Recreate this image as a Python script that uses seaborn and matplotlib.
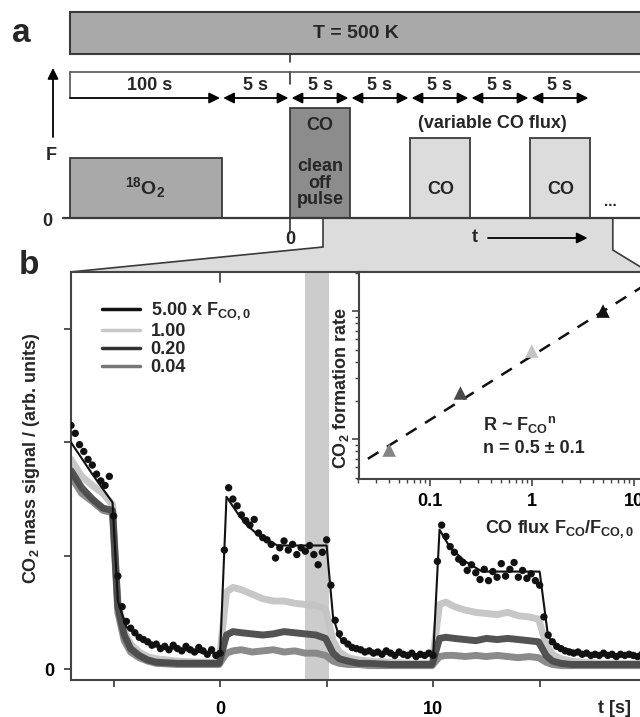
import numpy as np
import matplotlib
matplotlib.use("Agg")
import matplotlib.pyplot as plt
from matplotlib.patches import Rectangle, Polygon
from matplotlib.lines import Line2D
import seaborn as sns

sns.set_style("ticks")
plt.rcParams["font.family"] = ["Liberation Sans", "DejaVu Sans"]
plt.rcParams["font.weight"] = "bold"
plt.rcParams["axes.labelweight"] = "bold"
plt.rcParams["mathtext.default"] = "regular"

# ---- panel a: pulse schedule (schematic units, 5 s = 5 units) ----
sched_labels = ["100 s", "5 s", "5 s", "5 s", "5 s", "5 s", "5 s"]
sched_edges = [-18.33, -5.7, 0, 5, 10, 15, 20, 25]
pulse_start = [-18.33, 0, 10, 20]
pulse_end = [-5.7, 5, 15, 25]
pulse_level = [6.0, 11.0, 8.0, 8.0]
pulse_fill = ["#a9a9a9", "#8c8c8c", "#dcdcdc", "#dcdcdc"]

# ---- panel b: CO2 traces ----
flux_labels = [r"5.00 x F$_{CO,0}$", "1.00", "0.20", "0.04"]
flux_colors = ["#111111", "#c4c4c4", "#4a4a4a", "#858585"]

black_dots = [2.15, 2.08, 1.98, 1.92, 1.85, 1.80, 1.72, 1.66, 1.62, 1.70,
              1.35, 0.82, 0.55, 0.42, 0.36, 0.32, 0.28, 0.26, 0.24, 0.21,
              0.22, 0.18, 0.20, 0.17, 0.21, 0.18, 0.16, 0.20, 0.17, 0.15,
              0.19, 0.16, 0.13, 0.17, 0.12,
              0.14, 1.05, 1.60, 1.50, 1.44, 1.36, 1.31, 1.27, 1.32, 1.20,
              1.16, 1.14, 1.10, 0.98, 1.07, 1.13, 1.05, 1.10, 1.01, 1.07,
              1.04, 1.09, 1.01, 0.92, 1.03, 1.14, 0.74, 0.43, 0.31, 0.25,
              0.22, 0.19, 0.18, 0.17, 0.15, 0.16, 0.14, 0.15, 0.13, 0.16,
              0.14, 0.12, 0.15, 0.13, 0.12, 0.14, 0.11, 0.13, 0.12, 0.14,
              0.12, 0.95, 1.27, 1.17, 1.08, 1.03, 0.97, 0.94, 0.87, 0.92,
              0.85, 0.79, 0.88, 0.78, 0.86, 0.81, 0.93, 0.82, 0.88, 0.94,
              0.81, 0.87, 0.80, 0.84, 0.78, 0.74, 0.46, 0.30, 0.24, 0.20,
              0.18, 0.16, 0.15, 0.14, 0.15, 0.13, 0.14, 0.12, 0.13, 0.12,
              0.14, 0.12, 0.13, 0.11, 0.13, 0.12, 0.13, 0.12, 0.11, 0.13,
              0.12]
t_dots = np.round(-7.0 + 0.2 * np.arange(len(black_dots)), 1)

fit_t = [-7, -6, -5.05, -4.8, -4.4, -3.6, -2.6, -1, 0, 0.3, 0.8, 1.2, 1.8, 2.7, 5.0,
         5.3, 5.6, 6.0, 6.6, 8, 10, 10.3, 10.8, 11.5, 12.3, 15.0, 15.4, 16, 17, 20]
fit_black = [2.0, 1.72, 1.47, 0.6, 0.37, 0.26, 0.19, 0.15, 0.14, 1.52, 1.38, 1.28, 1.18, 1.09, 1.09,
             0.46, 0.28, 0.21, 0.17, 0.13, 0.12, 1.23, 1.07, 0.95, 0.86, 0.86, 0.28, 0.19, 0.14, 0.12]

t_gray = [-7, -6.5, -6, -5.5, -5.05, -4.8, -4.5, -4.2, -3.8, -3.4,
          -3, -2, -1, -0.05, 0.3, 0.6, 1, 1.5, 2, 2.5,
          3, 3.5, 4, 4.5, 4.95, 5.3, 5.6, 6, 6.5, 7,
          8, 9, 9.95, 10.3, 10.6, 11, 11.5, 12, 12.5, 13,
          13.5, 14, 14.5, 14.95, 15.3, 15.6, 16, 16.5, 17, 18,
          19, 20]
sig_100 = [1.85, 1.70, 1.62, 1.55, 1.45, 0.60, 0.33, 0.22, 0.15, 0.11,
           0.09, 0.07, 0.06, 0.06, 0.68, 0.72, 0.70, 0.66, 0.62, 0.60,
           0.60, 0.58, 0.57, 0.56, 0.53, 0.25, 0.15, 0.10, 0.08, 0.07,
           0.06, 0.05, 0.05, 0.57, 0.59, 0.55, 0.52, 0.50, 0.49, 0.48,
           0.50, 0.47, 0.46, 0.44, 0.22, 0.13, 0.09, 0.07, 0.06, 0.05,
           0.05, 0.05]
sig_020 = [1.75, 1.60, 1.50, 1.42, 1.40, 0.55, 0.30, 0.18, 0.12, 0.08,
           0.06, 0.05, 0.05, 0.05, 0.30, 0.33, 0.32, 0.31, 0.30, 0.31,
           0.33, 0.32, 0.31, 0.30, 0.27, 0.14, 0.09, 0.07, 0.05, 0.05,
           0.04, 0.04, 0.04, 0.27, 0.28, 0.27, 0.26, 0.25, 0.27, 0.26,
           0.27, 0.26, 0.25, 0.24, 0.12, 0.07, 0.05, 0.04, 0.04, 0.04,
           0.04, 0.04]
sig_004 = [1.70, 1.55, 1.48, 1.40, 1.38, 0.50, 0.25, 0.15, 0.10, 0.07,
           0.05, 0.04, 0.04, 0.04, 0.14, 0.16, 0.17, 0.15, 0.16, 0.17,
           0.15, 0.16, 0.14, 0.14, 0.12, 0.07, 0.05, 0.04, 0.04, 0.03,
           0.03, 0.03, 0.03, 0.11, 0.12, 0.12, 0.11, 0.12, 0.11, 0.12,
           0.11, 0.10, 0.11, 0.10, 0.06, 0.04, 0.03, 0.03, 0.03, 0.03,
           0.03, 0.03]

# inset: rate vs flux
inset_flux = [5.0, 1.0, 0.2, 0.04]
inset_rate = [10.0, 4.87, 2.29, 0.82]
fit_flux = [0.0247, 20.0]
fit_rate = [0.70, 19.9]

fig = plt.figure(figsize=(6.4, 7.17), dpi=100)
W, H = 640, 717

# ================= panel a =================
ax_a = fig.add_axes([0, 1 - 272 / H, 1, 272 / H])
ax_a.set_xlim(-24.167, 29.167)
ax_a.set_ylim(-5.4, 21.8)
ax_a.axis("off")

ax_a.add_patch(Rectangle((-18.33, 16.4), 50, 4.2, fc="#a9a9a9", ec="#3a3a3a", lw=1.5))
ax_a.text(5.5, 18.5, "T = 500 K", ha="center", va="center", fontsize=14)
ax_a.plot([0, 0], [16.4, 15.6], color="#333333", lw=1.2)
ax_a.plot([0, 0], [14.6, 13.4], color="#333333", lw=1.2)
ax_a.plot([-18.33, 31], [14.6, 14.6], color="#555555", lw=1.2)
ax_a.plot([-18.33, -18.33], [14.6, 12.0], color="#555555", lw=1.2)

# timeline arrows
for i, lab in enumerate(sched_labels):
    a0, a1 = sched_edges[i], sched_edges[i + 1]
    style = "-|>" if i == 0 else "<|-|>"
    start = a0 if i == 0 else a0 + 0.13
    ax_a.annotate("", xy=(a1 - 0.13, 12.0), xytext=(start, 12.0),
                  arrowprops=dict(arrowstyle=style, color="black", lw=1.3,
                                  mutation_scale=16, shrinkA=0, shrinkB=0))
    ax_a.text((a0 + a1) / 2 + (0.3 if i == 0 else 0), 13.2, lab, ha="center", va="center", fontsize=13)

# flux pulses
for s, e, lv, fc in zip(pulse_start, pulse_end, pulse_level, pulse_fill):
    ax_a.add_patch(Rectangle((s, 0), e - s, lv, fc=fc, ec="#3a3a3a", lw=1.3, zorder=2))
ax_a.text(-12.1, 3.0, r"$^{18}$O$_2$", ha="center", va="center", fontsize=14, zorder=3)
ax_a.text(2.5, 9.3, "CO", ha="center", va="center", fontsize=13, zorder=3)
ax_a.text(2.5, 3.5, "clean\noff\npulse", ha="center", va="center", fontsize=13,
          linespacing=0.95, zorder=3)
ax_a.text(12.6, 2.9, "CO", ha="center", va="center", fontsize=13, zorder=3)
ax_a.text(22.6, 2.9, "CO", ha="center", va="center", fontsize=13, zorder=3)
ax_a.text(16.9, 9.5, "(variable CO flux)", ha="center", va="center", fontsize=13)
ax_a.text(26.7, 1.6, "...", ha="center", va="center", fontsize=11)

# zoom window onto panel b
ax_a.add_patch(Polygon([(2.75, 0), (26.9, 0), (26.9, -3.2), (29.9, -5.4),
                        (-18.33, -5.4), (2.75, -2.9)],
                       closed=True, fc="#dcdcdc", ec="#3a3a3a", lw=1.2, zorder=1, clip_on=False))
ax_a.plot([-18.9, 31], [0, 0], color="#3a3a3a", lw=1.6, zorder=4)
ax_a.plot([0, 0], [0, -1.5], color="#333333", lw=1.2, zorder=4)
ax_a.text(0, -2.2, "0", ha="center", va="center", fontsize=13)
ax_a.text(15.4, -2.0, "t", ha="center", va="center", fontsize=13)
ax_a.annotate("", xy=(24.8, -2.0), xytext=(16.5, -2.0),
              arrowprops=dict(arrowstyle="-|>", color="black", lw=1.3,
                              mutation_scale=16, shrinkA=0, shrinkB=0))
ax_a.annotate("", xy=(-19.75, 15.0), xytext=(-19.75, 8.1),
              arrowprops=dict(arrowstyle="-|>", color="black", lw=1.3,
                              mutation_scale=16, shrinkA=0, shrinkB=0))
ax_a.text(-19.9, 6.2, "F", ha="center", va="center", fontsize=13)
ax_a.text(-20.2, -0.3, "0", ha="center", va="center", fontsize=13)

# ================= panel b =================
ax = fig.add_axes([71 / W, 1 - 680 / H, 579 / W, 408 / H])
ax.set_xlim(-7.0, 20.18)
ax.set_ylim(-0.097, 3.504)
ax.axvspan(4.0, 5.1, color="#cccccc", lw=0, zorder=0)

for sig, col in zip([sig_100, sig_004, sig_020], [flux_colors[1], flux_colors[3], flux_colors[2]]):
    sns.lineplot(x=t_gray, y=sig, ax=ax, color=col, lw=5, alpha=0.95,
                 solid_capstyle="round", solid_joinstyle="round", zorder=2)
sns.lineplot(x=fit_t, y=fit_black, ax=ax, color="#111111", lw=1.5, zorder=4)
sns.scatterplot(x=t_dots, y=black_dots, ax=ax, color="#111111", s=28,
                edgecolor="none", zorder=5)

ax.set_yticks([0, 1, 2, 3])
ax.set_yticklabels(["0", "", "", ""])
ax.set_xticks([-5, 0, 5, 10, 15])
ax.set_xticklabels(["", "0", "", "10", ""])
ax.tick_params(axis="both", direction="out", length=5, width=1.3, colors="#444444",
               labelcolor="black", labelsize=13)
ax.tick_params(axis="x", pad=10)
ax.tick_params(axis="y", pad=7)
ax.axvline(0, ymin=0.975, ymax=1, color="#444444", lw=1.3)
for sp in ax.spines.values():
    sp.set_color("#444444")
    sp.set_linewidth(1.5)
ax.set_ylabel(r"CO$_2$ mass signal / (arb. units)", fontsize=13)
ax.yaxis.set_label_coords(-0.05, 0.544)
ax.set_xlabel("t [s]", fontsize=13)
ax.xaxis.set_label_coords(0.938, -0.048)

handles = [Line2D([], [], color=c, lw=2.5) for c in ["#111111", "#c8c8c8", "#333333", "#777777"]]
ax.legend(handles, flux_labels, loc="upper left", bbox_to_anchor=(0.0535, 0.93),
          frameon=False, fontsize=13, handlelength=2.1, handletextpad=0.6,
          labelspacing=0.05, borderpad=0, borderaxespad=0)

# inset
ax_in = fig.add_axes([358.5 / W, 1 - 479 / H, 301.5 / W, 207 / H])
ax_in.set_xscale("log")
ax_in.set_yscale("log")
ax_in.set_xlim(0.020, 18.1)
ax_in.set_ylim(0.487, 20.2)
sns.lineplot(x=fit_flux, y=fit_rate, ax=ax_in, color="#111111", lw=1.8,
             linestyle=(0, (5, 4)))
for f, r, c in zip(inset_flux, inset_rate, flux_colors):
    ax_in.scatter([f], [r], marker="^", s=95, color=c, zorder=5, edgecolor="none")
ax_in.set_xticks([0.1, 1, 10])
ax_in.set_xticklabels(["0.1", "1", "10"])
ax_in.tick_params(axis="both", which="major", direction="out", length=5, width=1.2,
                  colors="#444444", labelcolor="black", labelsize=13)
ax_in.tick_params(axis="both", which="minor", direction="out", length=3, width=1.0,
                  colors="#444444")
ax_in.tick_params(axis="y", which="both", labelleft=False)
ax_in.tick_params(axis="x", pad=5)
for sp in ax_in.spines.values():
    sp.set_color("#444444")
    sp.set_linewidth(1.5)
ax_in.set_ylabel(r"CO$_2$ formation rate", fontsize=13)
ax_in.yaxis.set_label_coords(-0.025, 0.44)
ax_in.set_xlabel(r"CO flux F$_{CO}$/F$_{CO,0}$", fontsize=13)
ax_in.xaxis.set_label_coords(0.668, -0.19)
ax_in.text(0.413, 0.261, r"R ~ F$_{CO}$$^{n}$", transform=ax_in.transAxes,
           ha="left", va="center", fontsize=13)
ax_in.text(0.413, 0.145, "n = 0.5 ± 0.1", transform=ax_in.transAxes,
           ha="left", va="center", fontsize=13)

fig.text(21 / W, 1 - 34 / H, "a", fontsize=24, ha="center", va="center")
fig.text(29 / W, 1 - 266 / H, "b", fontsize=24, ha="center", va="center")

fig.savefig("out.png", dpi=100)
